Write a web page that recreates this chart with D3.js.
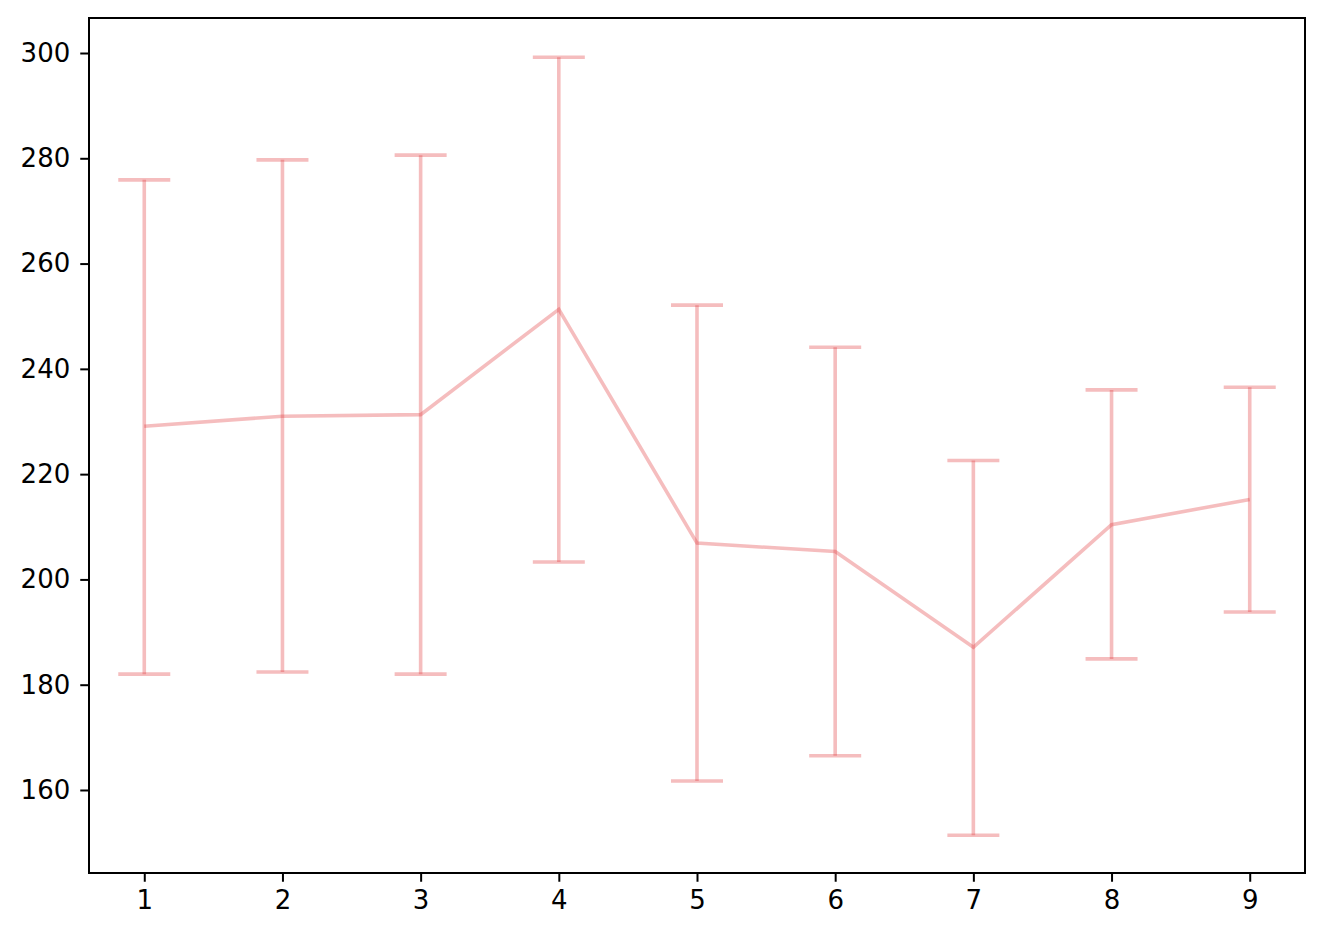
<!DOCTYPE html>
<html><head><meta charset="utf-8">
<script src="https://cdn.jsdelivr.net/npm/d3@7"></script>
<style>body{margin:0;background:#fff}svg{display:block}</style>
</head><body>
<svg id="c" width="1324" height="938"></svg>
<script>
const xs = [1,2,3,4,5,6,7,8,9];
const means = [229.1, 231.0, 231.3, 251.3, 206.9, 205.3, 187.1, 210.4, 215.2];
const upper = [275.9, 279.7, 280.6, 299.2, 252.1, 244.1, 222.6, 236.0, 236.5];
const lower = [182.0, 182.4, 182.0, 203.3, 161.7, 166.5, 151.4, 184.9, 193.8];
const yTicks = [160, 180, 200, 220, 240, 260, 280, 300];

const svg = d3.select("#c");
const L = 89, R = 1305, T = 18, B = 873;
const x = d3.scaleLinear().domain([0.6, 9.4]).range([L, R]);
const y = d3.scaleLinear().domain([144.23, 306.65]).range([B, T]);
const col = "#e0383a", op = 0.33, lw = 3.6, cap = 26;

const g = svg.append("g");
xs.forEach((d, i) => {
  g.append("line").attr("x1", x(d)).attr("x2", x(d)).attr("y1", y(lower[i])).attr("y2", y(upper[i]))
    .attr("stroke", col).attr("stroke-opacity", op).attr("stroke-width", lw);
  [lower[i], upper[i]].forEach(v => {
    g.append("line").attr("x1", x(d) - cap).attr("x2", x(d) + cap).attr("y1", y(v)).attr("y2", y(v))
      .attr("stroke", col).attr("stroke-opacity", op).attr("stroke-width", lw);
  });
});
g.append("path").datum(xs.map((d, i) => [d, means[i]]))
  .attr("d", d3.line().x(d => x(d[0])).y(d => y(d[1])))
  .attr("fill", "none").attr("stroke", col).attr("stroke-opacity", op).attr("stroke-width", lw);

const xAxis = svg.append("g").attr("transform", `translate(0,${B})`)
  .call(d3.axisBottom(x).tickValues(xs).tickFormat(d3.format("d")).tickSize(8.75).tickPadding(9));
const yAxis = svg.append("g").attr("transform", `translate(${L},0)`)
  .call(d3.axisLeft(y).tickValues(yTicks).tickFormat(d3.format("d")).tickSize(8.75).tickPadding(10));
[xAxis, yAxis].forEach(a => {
  a.attr("font-size", null).attr("font-family", null);
  a.select(".domain").remove();
  a.selectAll("line").attr("stroke", "#000").attr("stroke-width", 2);
  a.selectAll("text").style("font-family", "DejaVu Sans").style("font-size", "26px").attr("fill", "#000");
});
svg.append("rect").attr("x", L).attr("y", T).attr("width", R - L).attr("height", B - T)
  .attr("fill", "none").attr("stroke", "#000").attr("stroke-width", 2);
</script>
</body></html>
